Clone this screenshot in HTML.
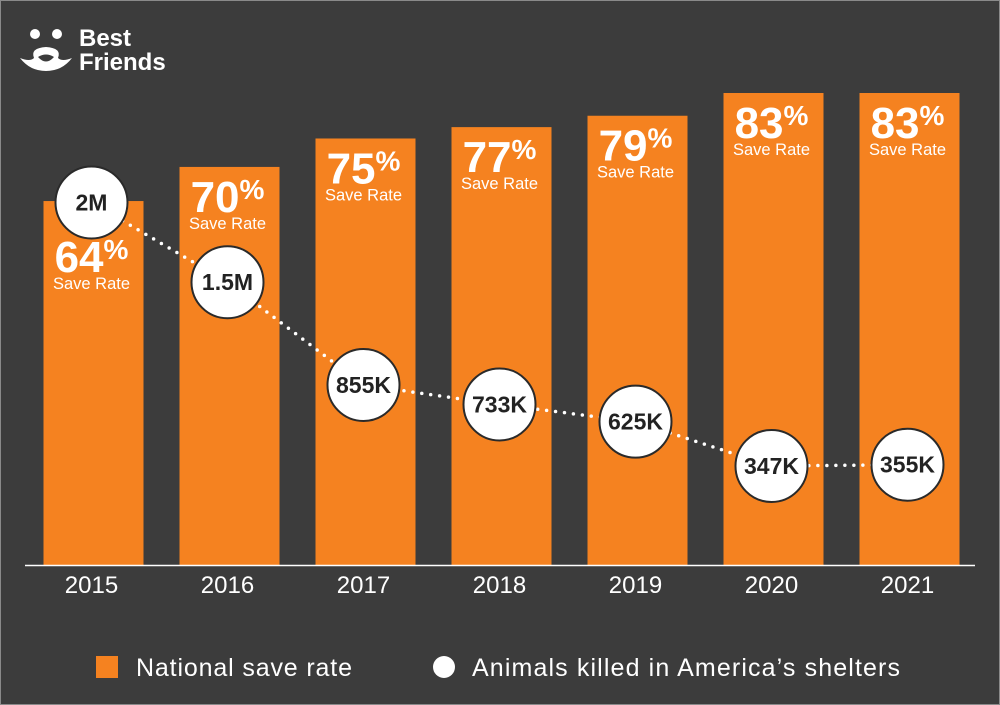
<!DOCTYPE html>
<html><head><meta charset="utf-8"><style>
html,body{margin:0;padding:0;background:#3c3c3c;}
svg{display:block;font-family:"Liberation Sans",Arial,sans-serif;}
</style></head><body>
<svg id="chart" width="1000" height="705" viewBox="0 0 1000 705">
<rect x="0.5" y="0.5" width="999" height="704" fill="#3c3c3c" stroke="#8a8a8a"/>
<g>
<circle cx="35" cy="34" r="5" fill="#fff"/><circle cx="57" cy="34" r="5" fill="#fff"/>
<path d="M20 58 Q30 62 34 58 Q30 48 46 47 Q62 48 58 58 Q62 62 72 58 Q62 71 46 71 Q30 71 20 58Z M38 57 Q46 66 54 57 Q46 52 38 57Z" fill="#fff" fill-rule="evenodd"/>
<text x="79" y="46" fill="#fff" font-size="24" font-weight="bold">Best</text>
<text x="79" y="70" fill="#fff" font-size="24" font-weight="bold">Friends</text>
</g>
<g id="bars"></g>
<line x1="25" y1="565.5" x2="975" y2="565.5" stroke="#fff" stroke-width="1.5"/>
<g id="xlabels"></g>
<g id="line"></g>
<g>
<rect x="96" y="656" width="22" height="22" fill="#f58220"/>
<text x="136" y="676" fill="#fff" font-size="25" textLength="216">National save rate</text>
<circle cx="444" cy="667" r="11" fill="#fff"/>
<text x="472" y="676" fill="#fff" font-size="25" textLength="428">Animals killed in America’s shelters</text>
</g>
</svg>
<script>
const years=["2015","2016","2017","2018","2019","2020","2021"];
const saveRates=[64,70,75,77,79,83,83];
const killed=[2000,1500,855,733,625,347,355];
const killedLabels=["2M","1.5M","855K","733K","625K","347K","355K"];
const NS="http://www.w3.org/2000/svg";
const base=565,pxPerPct=472/83;
const xc=i=>93.5+i*136;
const yBar=v=>base-v*pxPerPct;
const yK=v=>521.3-0.1594*v;
function mk(t,a,p){const e=document.createElementNS(NS,t);for(const k in a)e.setAttribute(k,a[k]);p.appendChild(e);return e;}
const gb=document.getElementById('bars'),gx=document.getElementById('xlabels'),gl=document.getElementById('line');
years.forEach((y,i)=>{
 const top=yBar(saveRates[i]);
 const r=mk('rect',{x:xc(i)-50,y:top,width:100,height:base-top,fill:'#f58220'},gb);
 
 
 const off=i===0?71:45;
 const t=mk('text',{x:xc(i)-2,y:top+off,fill:'#fff','font-size':44,'font-weight':'bold','text-anchor':'middle'},gb);
 
 
 t.textContent=saveRates[i];
 const ts=mk('tspan',{'font-size':28,dy:-13},t);ts.textContent='%';
 const s=mk('text',{x:xc(i)-2,y:top+off+17,fill:'#fff','font-size':16.5,'text-anchor':'middle'},gb);
 
 
 s.textContent='Save Rate';
 const xl=mk('text',{x:xc(i)-2,y:593,fill:'#fff','font-size':24,'text-anchor':'middle'},gx);
 
 
 xl.textContent=y;
});
let d='';killed.forEach((v,i)=>{d+=(i?'L':'M')+(xc(i)-2)+' '+yK(v)+' ';});
const p=mk('path',{d:d,fill:'none',stroke:'#fff','stroke-width':3.5,'stroke-dasharray':'0 9','stroke-linecap':'round'},gl);


killed.forEach((v,i)=>{
 const c=mk('circle',{cx:xc(i)-2,cy:yK(v),r:36,fill:'#fff',stroke:'#2a2a2a','stroke-width':2},gl);
 
 
 const t=mk('text',{x:xc(i)-2,y:yK(v)+8,fill:'#222','font-size':23,'font-weight':'bold','text-anchor':'middle'},gl);
 
 
 t.textContent=killedLabels[i];
});
</script>
</body></html>
